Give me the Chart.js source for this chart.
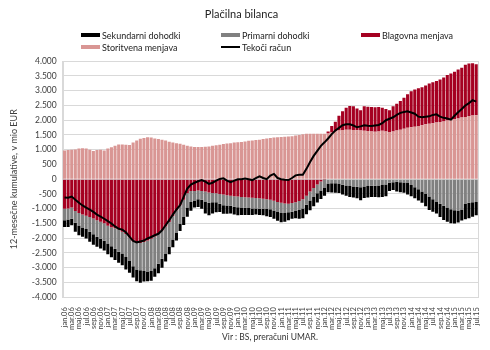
<!DOCTYPE html>
<html>
<head>
<meta charset="utf-8">
<script src="https://cdn.jsdelivr.net/npm/chart.js@4/dist/chart.umd.min.js"></script>
<style>
  body { margin: 0; background: #fff; }
  #wrap { position: relative; width: 490px; height: 350px; font-family: Lato, "Liberation Sans", sans-serif; }
  .lg { position: absolute; font-size: 9px; line-height: 10px; color: #222; white-space: nowrap; }
  .sw { display: inline-block; width: 19px; height: 4px; margin-right: 2px; vertical-align: 2px; }
  .sw.ln { height: 2px; vertical-align: 3px; }
  #src { position: absolute; left: 170px; width: 200px; top: 332px; text-align: center; font-size: 8.5px; color: #333; }
</style>
</head>
<body>
<div id="wrap">
  <canvas id="chart" width="490" height="350"></canvas>
  <div class="lg" style="left:81px;top:31px"><span class="sw" style="background:#000"></span>Sekundarni dohodki</div>
  <div class="lg" style="left:221px;top:31px"><span class="sw" style="background:#808080"></span>Primarni dohodki</div>
  <div class="lg" style="left:361px;top:31px"><span class="sw" style="background:#a50021"></span>Blagovna menjava</div>
  <div class="lg" style="left:81px;top:43px"><span class="sw" style="background:#d99694"></span>Storitvena menjava</div>
  <div class="lg" style="left:221px;top:43px"><span class="sw ln" style="background:#000"></span>Tekoči račun</div>
  <div id="src">Vir : BS, preračuni UMAR.</div>
</div>
<script>
// --- categories: monthly, jan.06 .. jul.15 ---
const MONTHS = ['jan', 'feb', 'mar', 'apr', 'maj', 'jun', 'jul', 'avg', 'sep', 'okt', 'nov', 'dec'];
const YEARS = ['06', '07', '08', '09', '10', '11', '12', '13', '14', '15'];
const LAST_MONTH_15 = 7; // data ends with jul.15

const labels = [];
YEARS.forEach((y) => {
  const n = y === '15' ? LAST_MONTH_15 : 12;
  for (let m = 0; m < n; m++) labels.push(MONTHS[m] + '.' + y);
});

// --- series, 12-month cumulative, mio EUR ---
const storitvena = [
  970, 990, 1000, 1010, 1040, 1050, 1040, 1000, 960, 990, 1000, 970,
  1040, 1080, 1130, 1180, 1180, 1170, 1160, 1240, 1310, 1370, 1400, 1420,
  1410, 1380, 1360, 1340, 1310, 1270, 1240, 1220, 1200, 1170, 1130, 1110,
  1090, 1090, 1090, 1100, 1110, 1130, 1150, 1170, 1190, 1210, 1220, 1240,
  1250, 1260, 1280, 1300, 1310, 1330, 1340, 1360, 1380, 1400, 1410, 1420,
  1430, 1440, 1450, 1460, 1480, 1500, 1520, 1540, 1540, 1540, 1540, 1540,
  1540, 1550, 1580, 1620, 1650, 1670, 1680, 1680, 1670, 1660, 1650, 1640,
  1630, 1620, 1610, 1620, 1640, 1620, 1600, 1620, 1650, 1680, 1710, 1740,
  1760, 1780, 1800, 1830, 1860, 1880, 1900, 1920, 1940, 1960, 1990, 2010,
  2030, 2060, 2090, 2110, 2140, 2160, 2170
];
const blagovna = [
  -1000, -990, -960, -1080, -1150, -1200, -1240, -1280, -1330, -1390, -1440, -1490,
  -1580, -1630, -1660, -1700, -1780, -1860, -1970, -2100, -2140, -2160, -2130, -2080,
  -2020, -1940, -1860, -1740, -1600, -1450, -1250, -1050, -880, -700, -480, -400,
  -400, -380, -400, -420, -450, -470, -480, -500, -520, -540, -560, -580,
  -590, -600, -610, -620, -630, -640, -650, -660, -680, -700, -730, -770,
  -800, -820, -830, -810, -780, -740, -680, -560, -420, -300, -180, -80,
  -10, 70, 220, 330, 500, 630, 740, 800, 800, 740, 690, 830,
  830, 830, 830, 830, 780, 760, 740, 850, 910, 970, 1050, 1140,
  1220, 1260, 1280, 1290, 1320, 1360, 1390, 1410, 1440, 1490, 1540, 1570,
  1610, 1660, 1690, 1770, 1780, 1770, 1730
];
const primarni = [
  -390, -380, -380, -400, -420, -440, -450, -500, -540, -560, -580, -600,
  -600, -640, -700, -760, -740, -780, -800, -850, -920, -930, -980, -1050,
  -1090, -1080, -1010, -960, -920, -850, -790, -760, -640, -580, -480, -370,
  -320, -300, -300, -340, -350, -310, -300, -330, -360, -350, -340, -350,
  -360, -360, -360, -360, -360, -350, -350, -340, -330, -320, -330, -340,
  -350, -330, -290, -290, -300, -300, -310, -310, -300, -300, -300, -300,
  -270, -150, -140, -140, -150, -190, -210, -230, -250, -260, -270, -250,
  -230, -220, -220, -210, -200, -180, -120, -100, -90, -100, -110, -130,
  -200, -270, -340, -420, -500, -590, -680, -770, -830, -900, -960, -1020,
  -1050, -1060, -1030, -840, -800, -780, -770
];
const sekundarni = [
  -230, -250, -220, -300, -330, -310, -320, -340, -350, -340, -330, -330,
  -360, -380, -380, -370, -400, -420, -400, -380, -400, -420, -360, -330,
  -330, -290, -320, -300, -270, -240, -270, -270, -240, -270, -310, -300,
  -240, -260, -300, -400, -420, -380, -340, -280, -290, -280, -260, -270,
  -270, -250, -240, -230, -220, -210, -210, -220, -250, -260, -280, -300,
  -310, -290, -270, -240, -240, -300, -330, -320, -330, -320, -310, -290,
  -280, -290, -310, -320, -320, -330, -350, -370, -370, -390, -440, -390,
  -390, -380, -380, -400, -400, -400, -280, -270, -330, -340, -350, -390,
  -380, -380, -380, -380, -420, -450, -420, -390, -450, -480, -480, -470,
  -450, -410, -370, -520, -520, -490, -450
];
const tekociRacun = [
  -620, -630, -590, -700, -800, -890, -960, -1030, -1110, -1200, -1270, -1340,
  -1420, -1500, -1600, -1680, -1710, -1800, -1950, -2090, -2140, -2110, -2080, -2010,
  -1960, -1900, -1850, -1730, -1560, -1390, -1200, -1030, -880, -600, -320, -180,
  -120, -70, -30, -80, -160, -120, -50, 10, 30, -50, -100, -50,
  0, 0, 20, 0, -30, 40, 100, 40, 0, 120, 180, 40,
  0, -20, -30, 40, 130, 150, 150, 350, 580, 790, 960, 1130,
  1250, 1380, 1530, 1650, 1740, 1830, 1860, 1860, 1820, 1760, 1790, 1830,
  1810, 1800, 1820, 1840, 1900, 2000, 2050, 2100, 2180, 2250, 2280, 2300,
  2260, 2220, 2120, 2100, 2120, 2130, 2180, 2200, 2120, 2080, 2060, 2020,
  2150, 2270, 2380, 2500, 2580, 2680, 2630
];

const fmt = (v) => {
  const s = String(Math.abs(v)).replace(/\B(?=(\d{3})+(?!\d))/g, '.');
  return (v < 0 ? '-' : '') + s;
};

// light frame round the plot area
const plotFrame = {
  id: 'plotFrame',
  beforeDatasetsDraw(chart) {
    const { ctx, chartArea: a } = chart;
    ctx.save();
    ctx.strokeStyle = '#d9d9d9';
    ctx.lineWidth = 1;
    ctx.strokeRect(Math.round(a.left) + 0.5, Math.round(a.top) + 0.5,
      Math.round(a.right - a.left), Math.round(a.bottom - a.top));
    ctx.restore();
  },
};

const bar = (label, data, color) => ({
  label, data, backgroundColor: color, borderWidth: 0,
  barPercentage: 0.85, categoryPercentage: 1.0, order: 1,
});

new Chart(document.getElementById('chart'), {
  type: 'bar',
  data: {
    labels,
    datasets: [
      bar('Storitvena menjava', storitvena, '#d99694'),
      bar('Blagovna menjava', blagovna, '#a50021'),
      bar('Primarni dohodki', primarni, '#808080'),
      bar('Sekundarni dohodki', sekundarni, '#000000'),
      {
        type: 'line', label: 'Tekoči račun', data: tekociRacun, stack: 'line',
        borderColor: '#000', borderWidth: 2, pointRadius: 0, tension: 0, order: 0,
      },
    ],
  },
  options: {
    responsive: false,
    devicePixelRatio: 1,
    animation: false,
    layout: { padding: { left: 5, right: 12, bottom: 18 } },
    plugins: {
      legend: { display: false },
      tooltip: { enabled: false },
      title: {
        display: true,
        text: 'Plačilna bilanca',
        color: '#222',
        font: { family: 'Lato', size: 11, weight: 'normal' },
        padding: { top: 8, bottom: 40 },
      },
    },
    scales: {
      x: {
        stacked: true,
        grid: { display: false },
        border: { display: true, color: '#d9d9d9' },
        ticks: {
          autoSkip: false, minRotation: 90, maxRotation: 90, padding: 2,
          color: '#404040', font: { family: 'Lato', size: 7.5 },
          callback: (v, i) => (i % 2 === 0 ? labels[i] : null),
        },
      },
      y: {
        stacked: true,
        min: -4000, max: 4000,
        grid: { color: '#d9d9d9', drawTicks: false },
        border: { display: true, color: '#d9d9d9' },
        ticks: {
          stepSize: 500, padding: 6, color: '#404040',
          font: { family: 'Lato', size: 8.5 },
          callback: (v) => fmt(v),
        },
        title: {
          display: true, text: '12-mesečne kumulative, v mio EUR',
          color: '#404040', font: { family: 'Lato', size: 9 }, padding: { bottom: 6 },
        },
      },
    },
  },
  plugins: [plotFrame],
});
</script>
</body>
</html>
